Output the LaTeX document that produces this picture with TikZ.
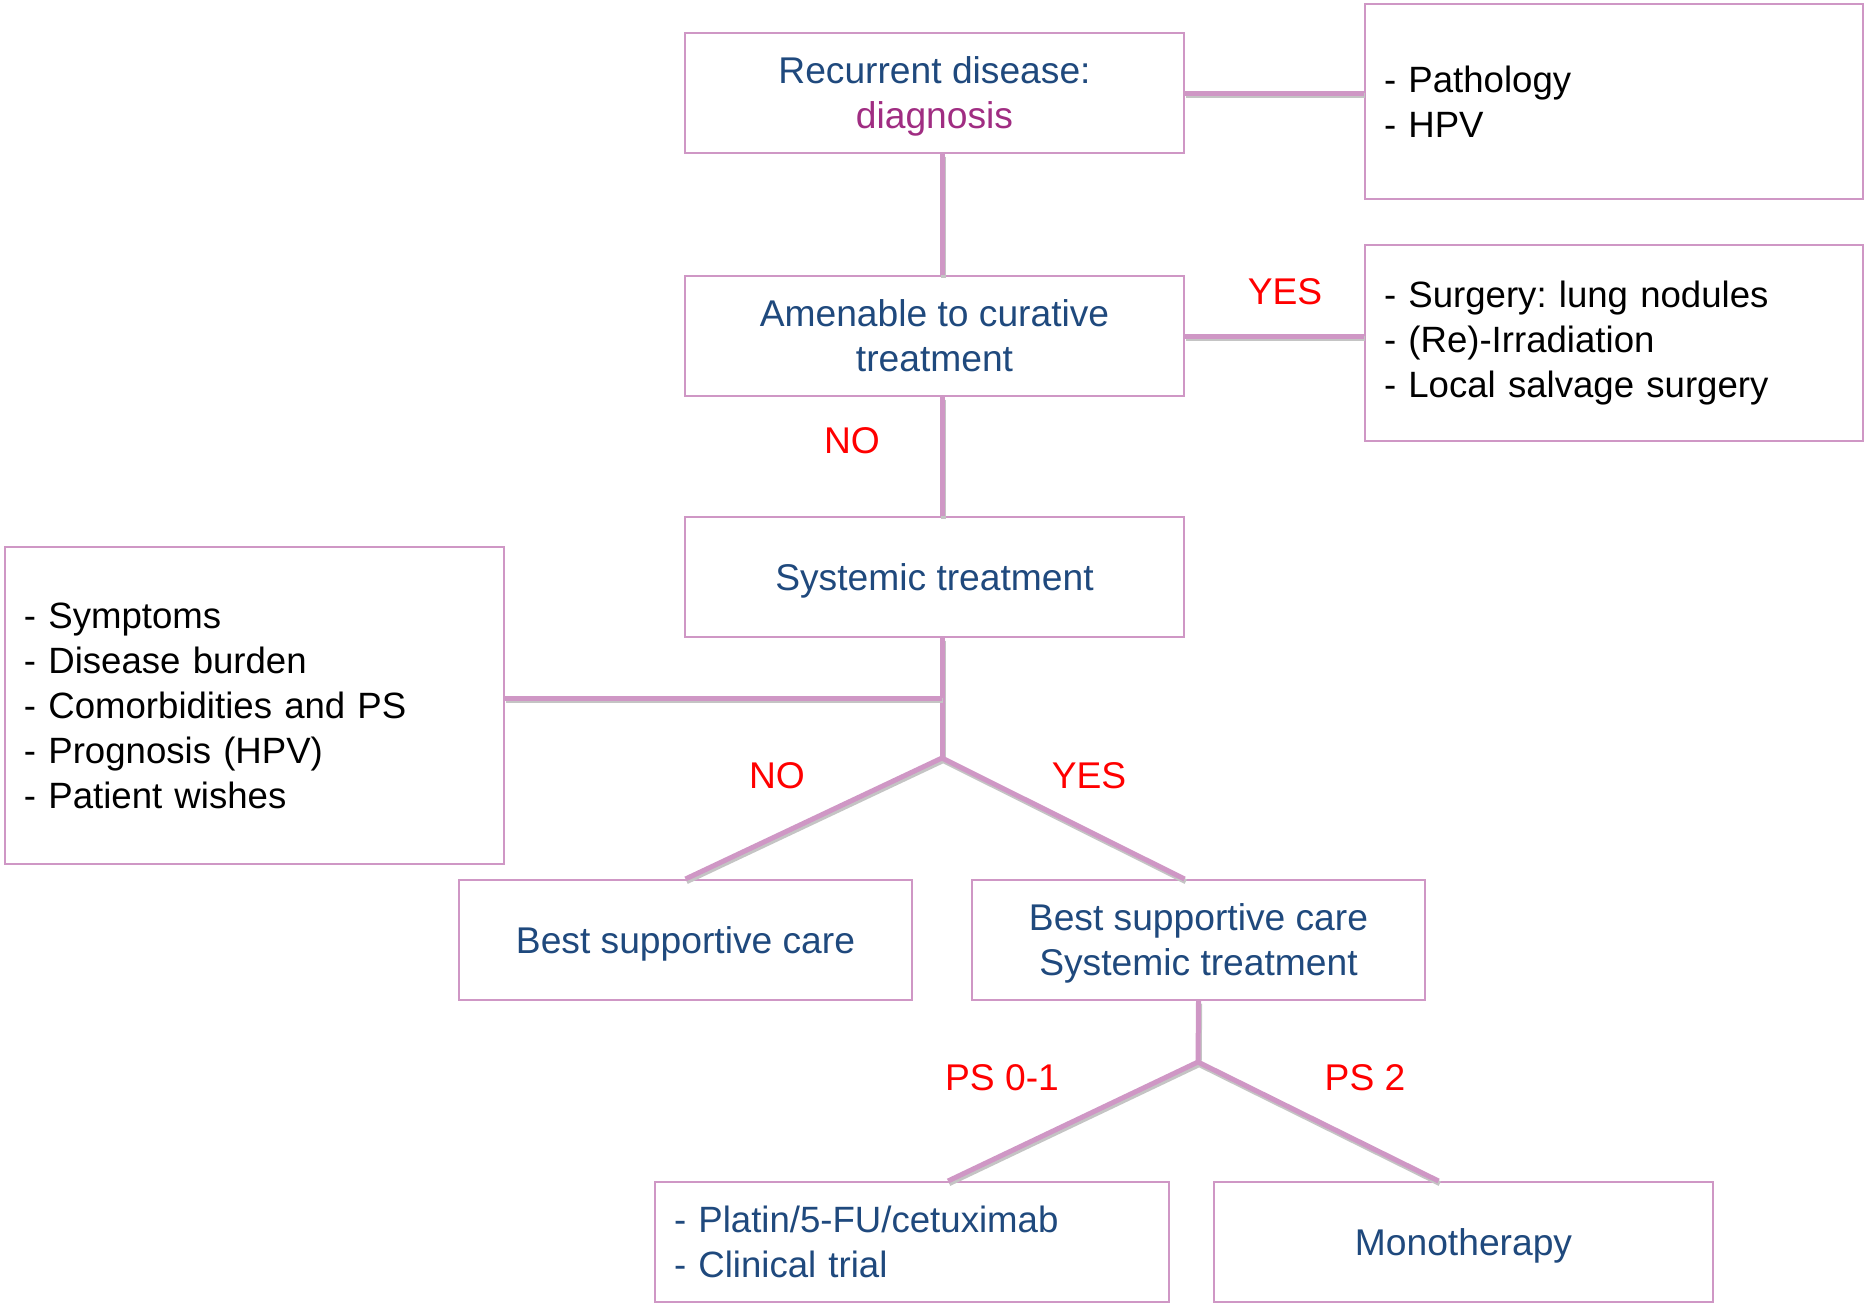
\documentclass[tikz,border=0pt]{standalone}
\usepackage{fontspec}
\setmainfont{Liberation Sans}
\frenchspacing
\usetikzlibrary{positioning}
\definecolor{cpink}{HTML}{CF97C5}
\definecolor{cshadow}{HTML}{C4C4C4}
\definecolor{cnavy}{HTML}{1F497D}
\definecolor{cplum}{HTML}{A02D82}
\definecolor{cred}{HTML}{FF0000}
\tikzset{
  every picture/.style={font=\fontsize{18.6}{22.5}\selectfont},
  box/.style={draw=cpink, line width=1pt, fill=white, align=center, inner sep=0pt, text depth=0pt, text=cnavy, minimum width=#1, minimum height=60pt},
  box/.default=249.5pt,
  listbox/.style={draw=cpink, line width=1pt, fill=white, align=left, inner xsep=9.5pt, inner ysep=0pt, text width=#1, font=\fontsize{18.3}{22.5}\selectfont},
  listbox/.default=230.5pt,
  link/.style={draw=cpink, line width=2.5pt, preaction={draw=cshadow, line width=2.5pt, transform canvas={shift={(0.6pt,-1.3pt)}}}},
  answer/.style={text=cred},
}

\begin{document}
\begin{tikzpicture}[x=0.5pt, y=-0.5pt]
  \useasboundingbox (0,0) rectangle (1864,1307);
  % main column
  \node[box] (recur) at (934.5,93) {Recurrent disease:\\\textcolor{cplum}{diagnosis}};
  \node[box] (amen) at (934.5,336) {Amenable to curative\\treatment};
  \node[box] (syst) at (934.5,577) {Systemic treatment};
  % side lists
  \node[listbox=230pt, minimum height=97.5pt] (patho) at (1614,101.5) {- Pathology\\- HPV};
  \node[listbox=230pt, minimum height=98pt] (salv) at (1614,343) {- Surgery: lung nodules\\- (Re)-Irradiation\\- Local salvage surgery};
  \node[listbox, minimum height=158.5pt] (factors) at (254.5,705.5) {- Symptoms\\- Disease burden\\- Comorbidities and PS\\- Prognosis (HPV)\\- Patient wishes};
  % lower levels
  \node[box=226.5pt] (bsc) at (685.5,940) {Best supportive care};
  \node[box=226.5pt] (bscsys) at (1198.5,940) {Best supportive care\\Systemic treatment};
  \node[listbox=238pt, minimum height=60pt, text=cnavy] (combo) at (912,1242) {- Platin/5-FU/cetuximab\\- Clinical trial};
  \node[box] (mono) at (1463.5,1242) {Monotherapy};

  \coordinate (fork0) at (942,698);
  \coordinate (fork1) at (942,758);
  \coordinate (fork2) at (1198,1062);

  \draw[link] (recur.east) -- (recur.east -| patho.west);
  \draw[link] (amen.east) -- (amen.east -| salv.west);
  \draw[link] (recur.south -| fork1) -- (amen.north -| fork1);
  \draw[link] (amen.south -| fork1) -- (syst.north -| fork1);
  \draw[link] (syst.south -| fork1) -- (fork1);
  \draw[link] (factors.east |- fork0) -- (fork0);
  \draw[link] (bsc.north) -- (fork1) -- ([xshift=-7pt]bscsys.north);
  \draw[link] (bscsys.south) -- (fork2);
  \draw[link] ([xshift=18pt]combo.north) -- (fork2) -- ([xshift=-12.5pt]mono.north);

  % branch answers
  \node[answer] (yes1) at (1285,292) {YES};
  \node[answer] (no1) at (852,441) {NO};
  \node[answer] (no2) at (777,776) {NO};
  \node[answer] (yes2) at (1089,776) {YES};
  \node[answer] (ps01) at (1002,1078) {PS 0-1};
  \node[answer] (ps2) at (1365,1078) {PS 2};
\end{tikzpicture}
\end{document}
